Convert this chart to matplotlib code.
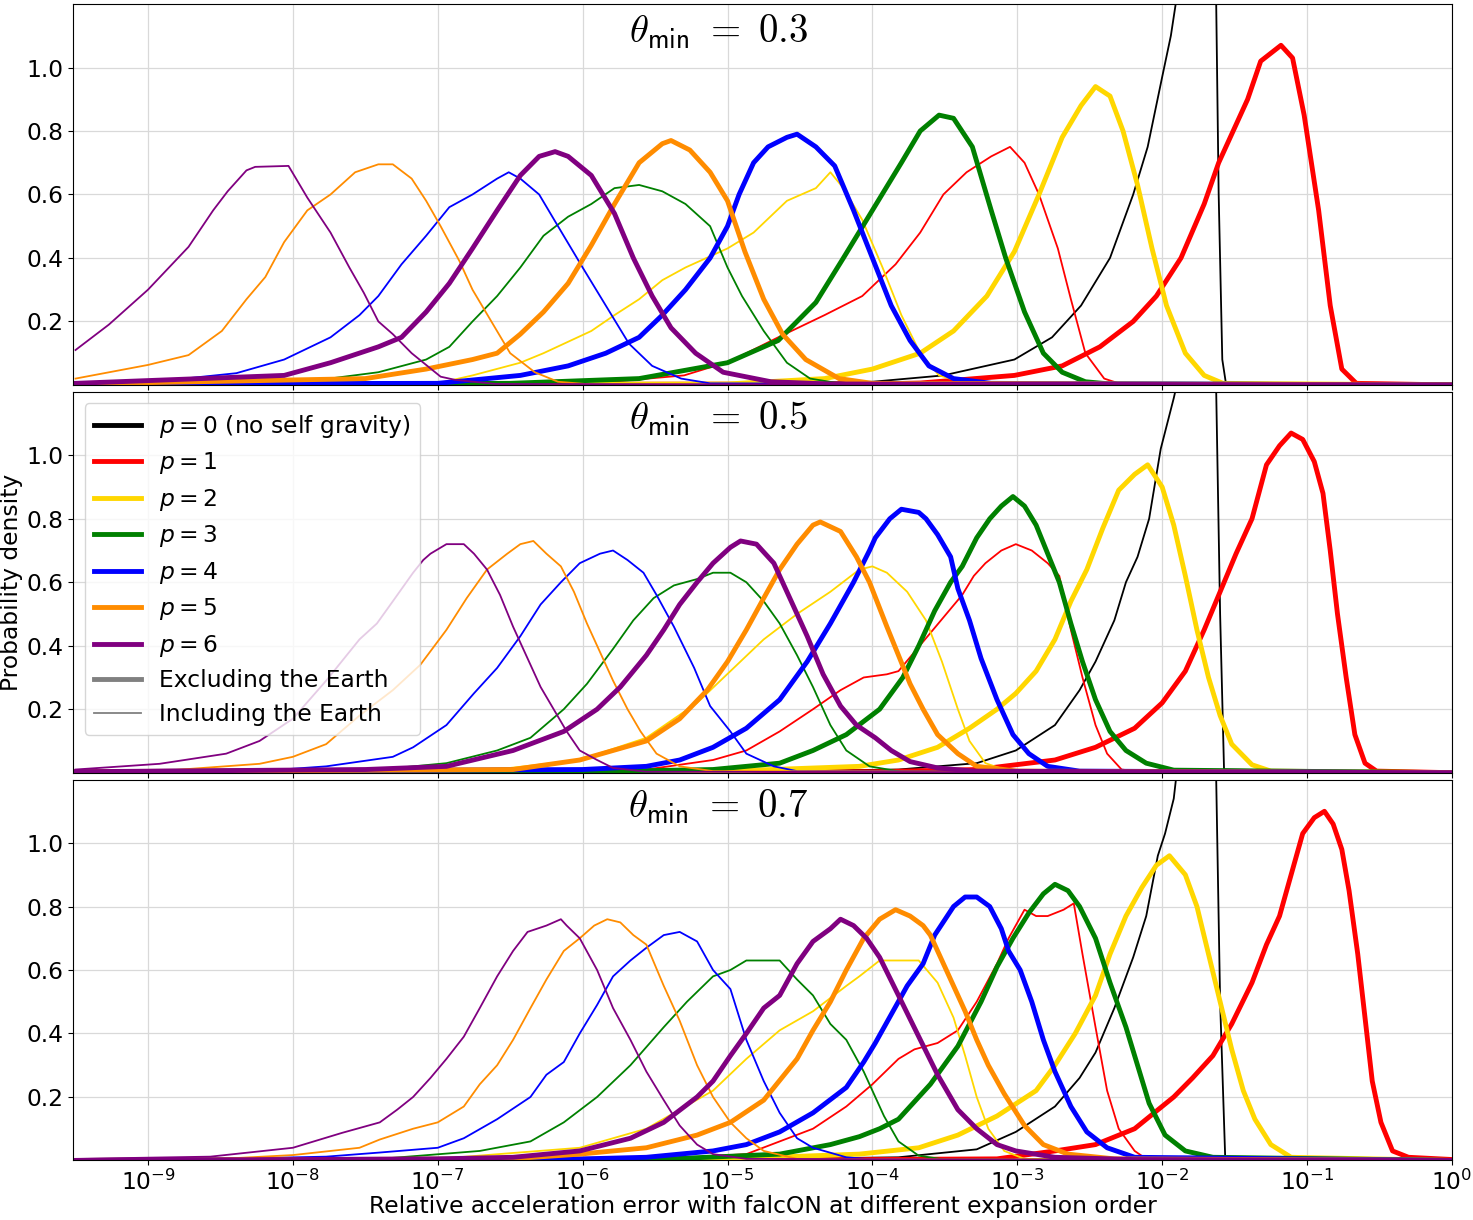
import numpy as np
import matplotlib
matplotlib.use('Agg')
import matplotlib.pyplot as plt
from matplotlib.lines import Line2D
from matplotlib.ticker import NullLocator

# curves are (log10 relative error, probability density)
# "exc" = excluding the Earth (thick), "inc" = including the Earth (thin)

# ---------------- theta_min = 0.3 ----------------
t3_inc_p0 = [(-9.5,0),(-5.0,0.003),(-4.0,0.01),(-3.51,0.03),(-3.02,0.08),(-2.76,0.15),(-2.56,0.25),(-2.36,0.4),(-2.2,0.6),(-2.1,0.75),(-2.0,0.97),(-1.94,1.1),(-1.9,1.22),(-1.8,1.8),(-1.7,2.0),(-1.64,1.6),(-1.627,1.2),(-1.61,0.6),(-1.585,0.08),(-1.56,0.005),(0,0)]
t3_exc_p1 = [(-9.5,0),(-4.0,0.003),(-3.67,0.006),(-3.02,0.03),(-2.69,0.06),(-2.43,0.12),(-2.2,0.2),(-2.04,0.28),(-1.87,0.4),(-1.71,0.57),(-1.61,0.7),(-1.51,0.8),(-1.41,0.9),(-1.32,1.02),(-1.18,1.07),(-1.1,1.03),(-1.02,0.85),(-0.92,0.55),(-0.84,0.25),(-0.76,0.05),(-0.66,0.005),(0,0)]
t3_inc_p1 = [(-9.5,0),(-6.0,0.005),(-5.8,0.01),(-5.3,0.03),(-4.98,0.075),(-4.65,0.15),(-4.33,0.22),(-4.07,0.28),(-3.84,0.38),(-3.67,0.48),(-3.51,0.6),(-3.35,0.67),(-3.18,0.72),(-3.05,0.75),(-2.95,0.7),(-2.85,0.6),(-2.72,0.43),(-2.63,0.27),(-2.53,0.1),(-2.4,0.02),(-2.3,0.005),(0,0)]
t3_exc_p2 = [(-9.5,0),(-5.0,0.003),(-4.33,0.02),(-4.0,0.05),(-3.67,0.1),(-3.44,0.17),(-3.21,0.28),(-3.02,0.42),(-2.85,0.6),(-2.69,0.78),(-2.56,0.88),(-2.46,0.94),(-2.36,0.91),(-2.27,0.8),(-2.17,0.63),(-2.07,0.43),(-1.97,0.25),(-1.84,0.1),(-1.71,0.03),(-1.58,0.005),(0,0)]
t3_inc_p2 = [(-9.5,0),(-7.0,0.005),(-6.76,0.03),(-6.43,0.07),(-6.27,0.1),(-5.94,0.17),(-5.78,0.22),(-5.61,0.27),(-5.45,0.33),(-5.29,0.37),(-5.0,0.43),(-4.82,0.48),(-4.59,0.58),(-4.39,0.62),(-4.29,0.67),(-4.2,0.62),(-4.07,0.52),(-3.93,0.37),(-3.8,0.22),(-3.67,0.1),(-3.54,0.03),(-3.35,0.005),(0,0)]
t3_exc_p3 = [(-9.5,0),(-6.5,0.005),(-5.61,0.02),(-5.0,0.07),(-4.65,0.14),(-4.39,0.26),(-4.2,0.4),(-4.0,0.55),(-3.8,0.7),(-3.67,0.8),(-3.54,0.85),(-3.44,0.84),(-3.31,0.75),(-3.18,0.55),(-3.08,0.4),(-2.95,0.23),(-2.82,0.1),(-2.69,0.04),(-2.53,0.01),(-2.36,0.003),(0,0)]
t3_inc_p3 = [(-9.5,0),(-8.0,0.005),(-7.41,0.04),(-7.08,0.08),(-6.92,0.12),(-6.76,0.2),(-6.59,0.28),(-6.43,0.37),(-6.27,0.47),(-6.1,0.53),(-5.94,0.57),(-5.78,0.62),(-5.61,0.63),(-5.45,0.61),(-5.29,0.57),(-5.12,0.5),(-5.0,0.37),(-4.9,0.28),(-4.75,0.17),(-4.59,0.07),(-4.43,0.02),(-4.2,0.003),(0,0)]
t3_exc_p4 = [(-9.5,0.003),(-7.0,0.005),(-6.43,0.03),(-6.1,0.06),(-5.84,0.1),(-5.61,0.15),(-5.45,0.22),(-5.29,0.3),(-5.12,0.4),(-5.0,0.5),(-4.92,0.6),(-4.82,0.7),(-4.72,0.75),(-4.59,0.78),(-4.52,0.79),(-4.39,0.75),(-4.26,0.69),(-4.13,0.55),(-4.0,0.4),(-3.87,0.25),(-3.74,0.14),(-3.61,0.06),(-3.44,0.02),(-3.18,0.005),(0,0)]
t3_inc_p4 = [(-9.5,0.005),(-9.0,0.008),(-8.39,0.037),(-8.06,0.08),(-7.74,0.15),(-7.54,0.22),(-7.41,0.28),(-7.25,0.38),(-7.08,0.47),(-6.92,0.56),(-6.76,0.6),(-6.59,0.65),(-6.51,0.67),(-6.43,0.65),(-6.3,0.6),(-6.17,0.5),(-6.0,0.37),(-5.84,0.25),(-5.68,0.13),(-5.52,0.06),(-5.32,0.02),(-5.12,0.005),(0,0)]
t3_exc_p5 = [(-9.5,0.003),(-7.5,0.02),(-7.08,0.05),(-6.76,0.08),(-6.59,0.1),(-6.43,0.16),(-6.27,0.23),(-6.1,0.32),(-5.94,0.44),(-5.78,0.57),(-5.61,0.7),(-5.45,0.76),(-5.39,0.77),(-5.26,0.74),(-5.12,0.67),(-5.0,0.58),(-4.88,0.42),(-4.75,0.27),(-4.62,0.16),(-4.46,0.08),(-4.23,0.02),(-4.0,0.005),(0,0)]
t3_inc_p5 = [(-9.5,0.02),(-9.0,0.063),(-8.72,0.094),(-8.49,0.17),(-8.32,0.27),(-8.19,0.34),(-8.06,0.45),(-7.9,0.55),(-7.74,0.6),(-7.57,0.67),(-7.41,0.695),(-7.31,0.695),(-7.18,0.65),(-7.08,0.58),(-6.98,0.5),(-6.85,0.39),(-6.76,0.3),(-6.63,0.2),(-6.5,0.1),(-6.33,0.04),(-6.17,0.01),(-5.9,0),(0,0)]
t3_exc_p6 = [(-9.5,0.005),(-8.06,0.03),(-7.74,0.07),(-7.41,0.12),(-7.25,0.15),(-7.08,0.23),(-6.92,0.32),(-6.76,0.43),(-6.59,0.55),(-6.43,0.66),(-6.3,0.72),(-6.19,0.735),(-6.1,0.72),(-5.94,0.66),(-5.78,0.54),(-5.65,0.4),(-5.52,0.28),(-5.39,0.18),(-5.22,0.1),(-5.03,0.04),(-4.7,0.01),(-4.3,0.003),(0,0)]
t3_inc_p6 = [(-9.5,0.11),(-9.27,0.19),(-9.0,0.3),(-8.72,0.435),(-8.55,0.55),(-8.45,0.61),(-8.32,0.676),(-8.26,0.687),(-8.03,0.69),(-7.9,0.59),(-7.74,0.48),(-7.61,0.37),(-7.51,0.29),(-7.41,0.2),(-7.31,0.16),(-7.18,0.1),(-6.98,0.026),(-6.88,0.016),(-6.6,0.003),(0,0)]

# ---------------- theta_min = 0.5 ----------------
t5_inc_p0 = [(-9.5,0),(-5.0,0.003),(-3.82,0.01),(-3.28,0.03),(-3.01,0.07),(-2.74,0.15),(-2.57,0.26),(-2.46,0.35),(-2.33,0.48),(-2.25,0.6),(-2.17,0.68),(-2.09,0.8),(-2.01,1.02),(-1.92,1.18),(-1.9,1.22),(-1.8,1.8),(-1.7,2.0),(-1.64,1.6),(-1.627,1.2),(-1.6,0.5),(-1.573,0.01),(0,0)]
t5_exc_p1 = [(-9.5,0),(-4.0,0.003),(-3.28,0.01),(-2.74,0.04),(-2.46,0.08),(-2.19,0.14),(-2.0,0.22),(-1.84,0.32),(-1.71,0.45),(-1.6,0.57),(-1.49,0.69),(-1.38,0.8),(-1.28,0.97),(-1.19,1.03),(-1.11,1.07),(-1.03,1.05),(-0.95,0.98),(-0.89,0.88),(-0.84,0.7),(-0.79,0.5),(-0.73,0.3),(-0.67,0.12),(-0.6,0.03),(-0.52,0.005),(0,0)]
t5_inc_p1 = [(-9.5,0),(-6.0,0.005),(-5.56,0.01),(-5.1,0.04),(-4.87,0.07),(-4.64,0.13),(-4.41,0.2),(-4.22,0.26),(-4.06,0.3),(-3.9,0.31),(-3.82,0.32),(-3.71,0.38),(-3.6,0.44),(-3.49,0.5),(-3.38,0.56),(-3.3,0.62),(-3.22,0.66),(-3.11,0.7),(-3.01,0.72),(-2.9,0.7),(-2.79,0.66),(-2.71,0.62),(-2.63,0.45),(-2.55,0.3),(-2.46,0.15),(-2.38,0.06),(-2.28,0.01),(-2.1,0),(0,0)]
t5_exc_p2 = [(-9.5,0),(-5.0,0.005),(-4.09,0.02),(-3.82,0.04),(-3.55,0.08),(-3.33,0.14),(-3.14,0.2),(-3.01,0.25),(-2.87,0.32),(-2.74,0.42),(-2.63,0.54),(-2.52,0.64),(-2.41,0.77),(-2.3,0.89),(-2.19,0.94),(-2.1,0.97),(-2.0,0.9),(-1.92,0.78),(-1.84,0.62),(-1.76,0.45),(-1.68,0.3),(-1.6,0.18),(-1.52,0.09),(-1.38,0.025),(-1.25,0.005),(0,0)]
t5_inc_p2 = [(-9.5,0),(-7.0,0.005),(-6.5,0.015),(-6.02,0.04),(-5.56,0.11),(-5.21,0.22),(-4.98,0.32),(-4.75,0.42),(-4.52,0.5),(-4.29,0.57),(-4.09,0.64),(-4.0,0.65),(-3.9,0.63),(-3.76,0.57),(-3.63,0.48),(-3.52,0.35),(-3.41,0.2),(-3.33,0.1),(-3.22,0.03),(-3.06,0.005),(0,0)]
t5_exc_p3 = [(-9.5,0),(-6.0,0.003),(-5.1,0.01),(-4.64,0.03),(-4.41,0.07),(-4.18,0.12),(-3.95,0.2),(-3.79,0.3),(-3.68,0.4),(-3.57,0.51),(-3.46,0.6),(-3.38,0.65),(-3.28,0.74),(-3.19,0.8),(-3.11,0.84),(-3.03,0.87),(-2.95,0.84),(-2.87,0.78),(-2.79,0.69),(-2.71,0.6),(-2.63,0.47),(-2.55,0.35),(-2.46,0.23),(-2.36,0.13),(-2.25,0.07),(-2.11,0.03),(-1.92,0.008),(0,0)]
t5_inc_p3 = [(-9.5,0.003),(-7.4,0.01),(-6.94,0.03),(-6.59,0.07),(-6.36,0.11),(-6.13,0.2),(-5.97,0.28),(-5.79,0.39),(-5.65,0.48),(-5.51,0.55),(-5.37,0.59),(-5.21,0.61),(-5.1,0.63),(-4.98,0.63),(-4.87,0.6),(-4.75,0.54),(-4.64,0.47),(-4.52,0.37),(-4.41,0.27),(-4.29,0.15),(-4.18,0.07),(-4.02,0.02),(-3.8,0.003),(0,0)]
t5_exc_p4 = [(-9.5,0.003),(-6.0,0.01),(-5.56,0.02),(-5.33,0.04),(-5.1,0.08),(-4.87,0.14),(-4.64,0.23),(-4.45,0.35),(-4.29,0.47),(-4.13,0.6),(-4.02,0.7),(-3.98,0.74),(-3.88,0.8),(-3.8,0.83),(-3.68,0.82),(-3.63,0.8),(-3.55,0.75),(-3.46,0.68),(-3.41,0.58),(-3.33,0.48),(-3.25,0.36),(-3.14,0.23),(-3.03,0.12),(-2.92,0.06),(-2.79,0.02),(-2.57,0.005),(0,0)]
t5_inc_p4 = [(-9.5,0.003),(-8.23,0.005),(-7.77,0.02),(-7.31,0.05),(-7.17,0.08),(-6.94,0.15),(-6.75,0.25),(-6.59,0.33),(-6.43,0.43),(-6.29,0.53),(-6.15,0.6),(-6.02,0.66),(-5.88,0.69),(-5.79,0.7),(-5.69,0.67),(-5.58,0.63),(-5.49,0.56),(-5.37,0.46),(-5.23,0.33),(-5.12,0.21),(-4.98,0.13),(-4.87,0.06),(-4.68,0.02),(-4.52,0.005),(0,0)]
t5_exc_p5 = [(-9.5,0.003),(-6.48,0.01),(-6.02,0.04),(-5.56,0.1),(-5.33,0.17),(-5.14,0.26),(-5.0,0.35),(-4.87,0.45),(-4.75,0.55),(-4.64,0.64),(-4.52,0.72),(-4.41,0.78),(-4.36,0.79),(-4.22,0.76),(-4.11,0.68),(-4.02,0.6),(-3.9,0.46),(-3.82,0.37),(-3.74,0.28),(-3.65,0.2),(-3.55,0.12),(-3.41,0.06),(-3.28,0.02),(-3.0,0.005),(0,0)]
t5_inc_p5 = [(-9.5,0.003),(-8.92,0.005),(-8.23,0.028),(-8.0,0.05),(-7.77,0.09),(-7.54,0.18),(-7.31,0.26),(-7.12,0.34),(-6.94,0.45),(-6.8,0.55),(-6.66,0.64),(-6.52,0.69),(-6.43,0.72),(-6.34,0.73),(-6.25,0.69),(-6.15,0.65),(-6.06,0.57),(-5.97,0.47),(-5.88,0.38),(-5.79,0.29),(-5.69,0.2),(-5.6,0.13),(-5.49,0.06),(-5.33,0.02),(-5.1,0.005),(0,0)]
t5_exc_p6 = [(-9.5,0.003),(-7.5,0.01),(-6.94,0.02),(-6.48,0.07),(-6.13,0.13),(-5.9,0.2),(-5.74,0.27),(-5.56,0.37),(-5.44,0.45),(-5.33,0.53),(-5.21,0.6),(-5.1,0.66),(-4.98,0.71),(-4.91,0.73),(-4.8,0.72),(-4.68,0.66),(-4.57,0.55),(-4.45,0.43),(-4.34,0.31),(-4.22,0.21),(-4.11,0.15),(-3.98,0.11),(-3.87,0.07),(-3.74,0.035),(-3.55,0.015),(-3.3,0.005),(0,0)]
t5_inc_p6 = [(-9.5,0.01),(-8.92,0.028),(-8.46,0.06),(-8.23,0.1),(-8.0,0.17),(-7.77,0.29),(-7.54,0.42),(-7.42,0.47),(-7.31,0.54),(-7.17,0.63),(-7.1,0.67),(-7.05,0.69),(-6.94,0.72),(-6.82,0.72),(-6.75,0.69),(-6.66,0.64),(-6.57,0.56),(-6.48,0.46),(-6.38,0.36),(-6.29,0.27),(-6.2,0.2),(-6.11,0.13),(-6.02,0.07),(-5.9,0.04),(-5.79,0.015),(-5.56,0.003),(0,0)]

# ---------------- theta_min = 0.7 ----------------
t7_inc_p0 = [(-9.5,0),(-5.0,0.003),(-3.82,0.01),(-3.28,0.035),(-3.01,0.09),(-2.74,0.17),(-2.57,0.26),(-2.46,0.34),(-2.33,0.48),(-2.2,0.64),(-2.11,0.77),(-2.03,0.96),(-1.98,1.03),(-1.92,1.14),(-1.9,1.22),(-1.8,1.8),(-1.7,2.0),(-1.64,1.6),(-1.627,1.2),(-1.6,0.5),(-1.565,0.01),(0,0)]
t7_exc_p1 = [(-9.5,0),(-4.0,0.003),(-3.14,0.005),(-2.74,0.03),(-2.46,0.05),(-2.19,0.1),(-1.92,0.2),(-1.79,0.26),(-1.65,0.33),(-1.52,0.43),(-1.38,0.56),(-1.28,0.68),(-1.19,0.77),(-1.11,0.9),(-1.03,1.03),(-0.95,1.08),(-0.88,1.1),(-0.82,1.06),(-0.76,0.98),(-0.71,0.85),(-0.65,0.65),(-0.6,0.45),(-0.55,0.25),(-0.49,0.12),(-0.41,0.03),(-0.3,0.01),(0,0.003)]
t7_inc_p1 = [(-9.5,0),(-5.5,0.003),(-4.87,0.02),(-4.64,0.06),(-4.41,0.1),(-4.18,0.17),(-4.0,0.24),(-3.82,0.32),(-3.71,0.35),(-3.55,0.37),(-3.41,0.41),(-3.28,0.5),(-3.14,0.62),(-3.06,0.7),(-2.95,0.79),(-2.87,0.77),(-2.79,0.77),(-2.68,0.79),(-2.61,0.81),(-2.55,0.65),(-2.46,0.42),(-2.38,0.22),(-2.3,0.1),(-2.19,0.03),(-2.11,0.005),(0,0)]
t7_exc_p2 = [(-9.5,0),(-5.0,0.005),(-4.09,0.02),(-3.68,0.04),(-3.41,0.08),(-3.14,0.14),(-2.87,0.22),(-2.74,0.3),(-2.6,0.4),(-2.46,0.52),(-2.36,0.65),(-2.25,0.77),(-2.14,0.86),(-2.04,0.93),(-1.95,0.96),(-1.84,0.9),(-1.76,0.8),(-1.68,0.65),(-1.6,0.5),(-1.52,0.35),(-1.44,0.22),(-1.36,0.13),(-1.25,0.05),(-1.11,0.01),(0,0)]
t7_inc_p2 = [(-9.5,0),(-7.0,0.005),(-6.02,0.04),(-5.56,0.1),(-5.1,0.22),(-4.87,0.32),(-4.64,0.41),(-4.41,0.47),(-4.18,0.55),(-4.09,0.58),(-3.95,0.63),(-3.82,0.63),(-3.68,0.63),(-3.55,0.56),(-3.44,0.45),(-3.36,0.33),(-3.28,0.2),(-3.2,0.1),(-3.09,0.03),(-2.95,0.005),(0,0)]
t7_exc_p3 = [(-9.5,0),(-5.5,0.003),(-4.64,0.02),(-4.29,0.05),(-4.09,0.075),(-3.95,0.1),(-3.82,0.13),(-3.6,0.24),(-3.41,0.36),(-3.25,0.5),(-3.14,0.61),(-3.03,0.7),(-2.92,0.78),(-2.82,0.84),(-2.74,0.87),(-2.65,0.85),(-2.57,0.8),(-2.46,0.7),(-2.36,0.56),(-2.25,0.42),(-2.19,0.33),(-2.09,0.18),(-1.98,0.08),(-1.84,0.03),(-1.65,0.01),(0,0)]
t7_inc_p3 = [(-9.5,0),(-7.4,0.005),(-6.71,0.03),(-6.36,0.06),(-6.13,0.12),(-5.9,0.2),(-5.67,0.3),(-5.44,0.42),(-5.28,0.5),(-5.1,0.58),(-4.98,0.6),(-4.87,0.63),(-4.75,0.63),(-4.64,0.63),(-4.52,0.57),(-4.41,0.52),(-4.29,0.43),(-4.18,0.38),(-4.06,0.28),(-4.0,0.22),(-3.92,0.14),(-3.82,0.06),(-3.68,0.015),(-3.5,0.003),(0,0)]
t7_exc_p4 = [(-9.5,0),(-6.0,0.005),(-5.56,0.01),(-5.1,0.03),(-4.87,0.05),(-4.64,0.09),(-4.41,0.15),(-4.18,0.23),(-4.06,0.31),(-3.98,0.37),(-3.87,0.46),(-3.76,0.55),(-3.65,0.62),(-3.57,0.71),(-3.44,0.8),(-3.36,0.83),(-3.28,0.83),(-3.19,0.8),(-3.11,0.73),(-3.06,0.66),(-2.98,0.6),(-2.9,0.5),(-2.82,0.38),(-2.74,0.28),(-2.63,0.17),(-2.52,0.09),(-2.38,0.04),(-2.19,0.01),(0,0)]
t7_inc_p4 = [(-9.5,0),(-8.5,0.005),(-7.77,0.012),(-7.4,0.025),(-7.0,0.04),(-6.82,0.07),(-6.59,0.13),(-6.36,0.2),(-6.25,0.27),(-6.13,0.31),(-6.02,0.4),(-5.9,0.49),(-5.79,0.58),(-5.67,0.63),(-5.56,0.67),(-5.44,0.71),(-5.33,0.72),(-5.21,0.69),(-5.1,0.6),(-4.98,0.54),(-4.87,0.38),(-4.75,0.25),(-4.64,0.15),(-4.52,0.07),(-4.41,0.04),(-4.18,0.01),(-3.9,0),(0,0)]
t7_exc_p5 = [(-9.5,0),(-6.5,0.005),(-6.02,0.02),(-5.56,0.04),(-5.21,0.08),(-4.98,0.12),(-4.75,0.19),(-4.52,0.32),(-4.41,0.41),(-4.29,0.5),(-4.18,0.6),(-4.06,0.7),(-3.95,0.76),(-3.84,0.79),(-3.74,0.77),(-3.65,0.74),(-3.6,0.71),(-3.52,0.63),(-3.44,0.55),(-3.36,0.47),(-3.28,0.38),(-3.2,0.3),(-3.09,0.21),(-2.95,0.11),(-2.82,0.05),(-2.65,0.02),(-2.33,0.005),(0,0)]
t7_inc_p5 = [(-9.5,0),(-8.5,0.005),(-8.0,0.017),(-7.54,0.04),(-7.4,0.066),(-7.17,0.1),(-7.0,0.12),(-6.82,0.17),(-6.71,0.24),(-6.59,0.3),(-6.48,0.38),(-6.36,0.48),(-6.25,0.57),(-6.13,0.66),(-6.02,0.7),(-5.92,0.74),(-5.83,0.76),(-5.74,0.75),(-5.65,0.71),(-5.56,0.68),(-5.44,0.55),(-5.33,0.44),(-5.21,0.3),(-5.1,0.2),(-4.98,0.12),(-4.87,0.07),(-4.75,0.03),(-4.52,0.005),(0,0)]
t7_exc_p6 = [(-9.5,0),(-7.0,0.005),(-6.48,0.01),(-6.02,0.03),(-5.67,0.07),(-5.44,0.12),(-5.21,0.2),(-5.1,0.25),(-4.98,0.33),(-4.87,0.4),(-4.75,0.48),(-4.64,0.52),(-4.52,0.62),(-4.41,0.69),(-4.29,0.73),(-4.22,0.76),(-4.13,0.74),(-4.04,0.7),(-3.95,0.64),(-3.82,0.52),(-3.68,0.39),(-3.55,0.27),(-3.41,0.16),(-3.28,0.1),(-3.14,0.05),(-3.01,0.03),(-2.74,0.01),(-2.2,0.003),(0,0)]
t7_inc_p6 = [(-9.5,0.005),(-8.57,0.012),(-8.0,0.04),(-7.66,0.087),(-7.4,0.12),(-7.28,0.16),(-7.17,0.2),(-7.05,0.26),(-6.94,0.32),(-6.82,0.39),(-6.71,0.48),(-6.59,0.58),(-6.48,0.66),(-6.38,0.72),(-6.25,0.74),(-6.15,0.76),(-6.11,0.74),(-6.02,0.7),(-5.9,0.6),(-5.79,0.48),(-5.67,0.38),(-5.56,0.28),(-5.44,0.19),(-5.33,0.11),(-5.21,0.05),(-5.1,0.02),(-4.87,0.005),(0,0)]

THETAS = ['0.3', '0.5', '0.7']
COLORS = ['black', 'red', 'gold', 'green', 'blue', 'darkorange', 'purple']
LW_EXC = 3.5
LW_INC = 1.3

panels = [
    ([None, t3_exc_p1, t3_exc_p2, t3_exc_p3, t3_exc_p4, t3_exc_p5, t3_exc_p6],
     [t3_inc_p0, t3_inc_p1, t3_inc_p2, t3_inc_p3, t3_inc_p4, t3_inc_p5, t3_inc_p6]),
    ([None, t5_exc_p1, t5_exc_p2, t5_exc_p3, t5_exc_p4, t5_exc_p5, t5_exc_p6],
     [t5_inc_p0, t5_inc_p1, t5_inc_p2, t5_inc_p3, t5_inc_p4, t5_inc_p5, t5_inc_p6]),
    ([None, t7_exc_p1, t7_exc_p2, t7_exc_p3, t7_exc_p4, t7_exc_p5, t7_exc_p6],
     [t7_inc_p0, t7_inc_p1, t7_inc_p2, t7_inc_p3, t7_inc_p4, t7_inc_p5, t7_inc_p6]),
]

plt.rcParams['font.size'] = 16.5


def draw_curve(ax, pts, color, lw):
    arr = np.array(pts)
    ax.plot(10.0 ** arr[:, 0], arr[:, 1], color=color, lw=lw)


fig, axes = plt.subplots(3, 1, figsize=(14.73, 12.2), dpi=100, sharex=True)
fig.subplots_adjust(left=0.0496, right=0.9857, bottom=0.0488, top=0.9967, hspace=0.018)

for ax, theta, (exc, inc) in zip(axes, THETAS, panels):
    for p in range(7):
        if exc[p] is not None:
            draw_curve(ax, exc[p], COLORS[p], LW_EXC)
        draw_curve(ax, inc[p], COLORS[p], LW_INC)
    ax.set_xscale('log')
    ax.set_xlim(10 ** -9.517, 1)
    ax.set_ylim(0, 1.2)
    ax.set_yticks([0.2, 0.4, 0.6, 0.8, 1.0])
    ax.set_xticks([10.0 ** k for k in range(-9, 1)])
    ax.xaxis.set_minor_locator(NullLocator())
    ax.grid(True, color='#d9d9d9', lw=0.9)
    ax.set_axisbelow(True)
    ax.tick_params(labelsize=16.8)
    ax.text(0.468, 0.90, r'$\theta_{\mathsf{min}}\ =\ ' + theta + '$', transform=ax.transAxes,
            ha='center', va='baseline', fontsize=28, math_fontfamily='cm')

handles = [Line2D([], [], color=COLORS[0], lw=LW_EXC)]
labels = [r'$p = 0$ (no self gravity)']
for p in range(1, 7):
    handles.append(Line2D([], [], color=COLORS[p], lw=LW_EXC))
    labels.append(r'$p = %d$' % p)
handles += [Line2D([], [], color='gray', lw=LW_EXC), Line2D([], [], color='gray', lw=LW_INC)]
labels += ['Excluding the Earth', 'Including the Earth']
axes[1].legend(handles, labels, loc='upper left', fontsize=16.8, labelspacing=0.45)

axes[1].set_ylabel('Probability density', fontsize=16.8, labelpad=2)
axes[2].set_xlabel('Relative acceleration error with falcON at different expansion order',
                   fontsize=16.8, labelpad=0)

fig.savefig('out.png', dpi=100)
